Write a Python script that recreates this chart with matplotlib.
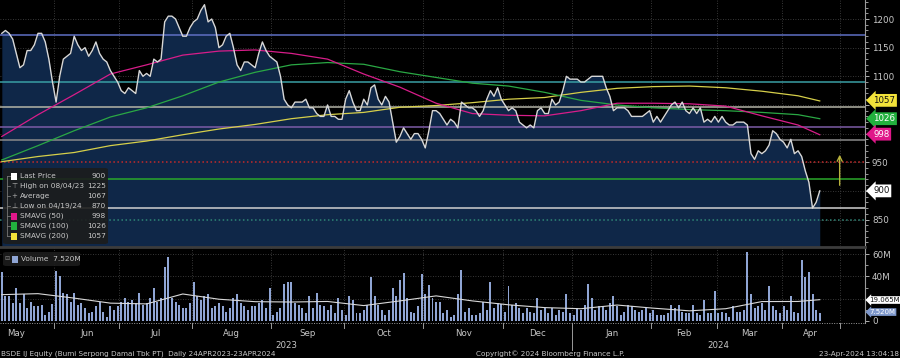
import numpy as np
import pandas as pd
import matplotlib
matplotlib.use("Agg")
import matplotlib.pyplot as plt
from matplotlib.patches import FancyBboxPatch, Rectangle
from matplotlib.lines import Line2D
from matplotlib.transforms import blended_transform_factory

# ---------------- data ----------------
price = [
    1175, 1180, 1175, 1165, 1140, 1115, 1120, 1145, 1145, 1155,
    1175, 1175, 1160, 1130, 1090, 1055, 1100, 1130, 1135, 1140,
    1170, 1155, 1145, 1150, 1135, 1145, 1160, 1140, 1130, 1125,
    1110, 1100, 1090, 1075, 1070, 1080, 1075, 1070, 1110, 1100,
    1105, 1100, 1130, 1125, 1130, 1195, 1205, 1205, 1200, 1185,
    1170, 1170, 1185, 1195, 1200, 1215, 1225, 1195, 1200, 1185,
    1150, 1155, 1170, 1175, 1150, 1120, 1110, 1125, 1125, 1120,
    1115, 1140, 1160, 1145, 1135, 1130, 1125, 1100, 1060, 1050,
    1045, 1055, 1055, 1055, 1060, 1045, 1045, 1035, 1030, 1030,
    1050, 1030, 1030, 1025, 1025, 1060, 1075, 1055, 1040, 1040,
    1060, 1050, 1080, 1085, 1060, 1050, 1065, 1055, 1020, 985,
    995, 1010, 1000, 990, 1000, 1000, 990, 975, 1005, 1040,
    1040, 1035, 1025, 1015, 1025, 1020, 1010, 1055, 1050, 1045,
    1045, 1040, 1030, 1040, 1060, 1075, 1065, 1080, 1060, 1050,
    1040, 1045, 1040, 1020, 1015, 1010, 1015, 1010, 1040, 1045,
    1035, 1035, 1060, 1050, 1055, 1075, 1100, 1095, 1095, 1095,
    1090, 1090, 1095, 1100, 1100, 1100, 1100, 1080, 1065, 1040,
    1045, 1045, 1045, 1040, 1030, 1030, 1030, 1030, 1035, 1040,
    1020, 1030, 1020, 1030, 1040, 1050, 1055, 1045, 1055, 1040,
    1035, 1045, 1035, 1045, 1020, 1025, 1020, 1030, 1020, 1030,
    1020, 1015, 1015, 1020, 1020, 1020, 1015, 965, 955, 970,
    965, 970, 980, 1005, 1000, 990, 985, 975, 990, 965,
    970, 960, 935, 915, 870, 880, 900,
]

volume_m = [
    44, 22, 22, 16, 30, 16, 24, 12, 17, 13,
    13, 14, 5, 8, 15, 45, 40, 25, 24, 17,
    25, 14, 16, 12, 7, 8, 13, 17, 8, 4,
    13, 10, 13, 17, 21, 17, 19, 16, 25, 14,
    16, 21, 30, 17, 21, 48, 57, 21, 17, 14,
    12, 12, 16, 35, 22, 19, 22, 24, 12, 13,
    16, 13, 8, 12, 21, 24, 16, 13, 10, 13,
    13, 16, 19, 12, 30, 5, 8, 12, 33, 35,
    35, 16, 14,
    12, 7, 22, 12, 25, 14, 13, 10, 14, 7,
    21, 10, 5, 22, 19, 7, 7, 10, 14, 39,
    22, 14, 10, 5, 10, 30, 22, 37, 43, 21,
    8, 7, 13, 42, 24, 32, 21, 17, 17, 7,
    10, 4, 5, 24, 46, 8, 12, 5, 5, 7,
    17, 10, 35, 12, 16, 15, 8, 31, 14, 16,
    12, 7, 12, 8, 7, 21, 10, 12, 7, 12,
    5, 10, 8, 24, 7, 5, 12,
    10, 14, 33, 21, 10, 13, 13, 10, 16, 22,
    13, 5, 8, 14, 13, 10, 8, 10, 12, 7,
    10, 5, 5, 5, 7, 14, 12, 14, 8, 7,
    7, 14, 7, 5, 19, 7, 7, 27, 7, 8,
    7, 4, 13, 8, 8, 10, 62, 24, 12, 13,
    16, 10, 31, 13, 10, 7, 13, 10, 22, 8,
    7, 55, 39, 44, 24, 10, 7.52,
]

# moving averages sampled every 10 trading days (index of sample)
ma_day = [0, 10, 20, 30, 40, 50, 60, 70, 80, 90, 100, 110, 120, 130, 140,
          150, 160, 170, 180, 190, 200, 210, 220, 226]
smavg50 = [995, 1033, 1068, 1104, 1120, 1137, 1144, 1146, 1140, 1130, 1104, 1081,
           1053, 1035, 1032, 1031, 1040, 1053, 1053, 1052, 1048, 1031, 1015, 998]
smavg100 = [954, 979, 1005, 1029, 1045, 1066, 1090, 1107, 1120, 1124, 1121, 1108,
            1098, 1088, 1083, 1072, 1058, 1050, 1045, 1042, 1040, 1037, 1033, 1026]
smavg200 = [951, 960, 967, 979, 987, 998, 1008, 1016, 1026, 1033, 1037, 1046,
            1049, 1054, 1060, 1063, 1072, 1079, 1082, 1083, 1080, 1074, 1066, 1057]
vol_ma = [23.6, 24.5, 20.5, 16, 15.3, 24.2, 19.5, 17.3, 17, 17.5, 13.8, 18,
          22.5, 18, 14.5, 12, 11, 14.3, 11.5, 9.1, 11, 17.4, 17.5, 19.1]

level_values = [1172, 1090, 1046, 1012, 989, 951, 920, 871, 849]
level_colors = ['#5f70c4', '#3a9ea4', '#b4b4a6', '#7c5ca6', '#8a8a8a',
                '#c42a2a', '#2aa82a', '#d0d0d0', '#2f8576']
level_styles = ['-', '-', '-', '-', '-', ':', '-', '-', ':']

legend_rows = [("Last Price", "900"), ("High on 08/04/23", "1225"), ("Average", "1067"),
               ("Low on 04/19/24", "870"), ("SMAVG (50)", "998"),
               ("SMAVG (100)", "1026"), ("SMAVG (200)", "1057")]

holidays = ['2023-05-01', '2023-05-18', '2023-06-01', '2023-06-02', '2023-06-29',
            '2023-06-30', '2023-07-19', '2023-08-17', '2023-09-28', '2023-12-25',
            '2023-12-26', '2024-01-01', '2024-02-08', '2024-02-09', '2024-02-14',
            '2024-03-11', '2024-03-12', '2024-03-29', '2024-04-08', '2024-04-09',
            '2024-04-10', '2024-04-11', '2024-04-12', '2024-04-15', '2024-05-01',
            '2024-05-09', '2024-05-10']
month_names = ['Jan', 'Feb', 'Mar', 'Apr', 'May', 'Jun', 'Jul', 'Aug', 'Sep', 'Oct', 'Nov', 'Dec']

# ---------------- calendar (trading-day axis) ----------------
cal = pd.bdate_range('2023-05-01', '2024-05-31')
cal = cal[~cal.isin(pd.to_datetime(holidays))]
start = int(np.searchsorted(cal, pd.Timestamp('2023-05-10')))
pos = np.arange(len(cal)) - start          # trading-day index, 0 = first plotted day
x = np.arange(len(price))

W, H = 900, 358
TXT = '#c8c8c8'
plt.rcParams['font.family'] = ['DejaVu Sans']

fig = plt.figure(figsize=(9, 3.58), dpi=100, facecolor='black')


def rect(x0, y0, x1, y1):
    return [x0 / W, 1 - y1 / H, (x1 - x0) / W, (y1 - y0) / H]


def fx(px):
    return px / W


def fy(py):
    return 1 - py / H


axp = fig.add_axes(rect(0, 0, 865, 246))
axv = fig.add_axes(rect(0, 247, 865, 323), sharex=axp)
XL = (-0.5, 238.5)

for ax in (axp, axv):
    ax.set_facecolor('black')
    for s in ('top', 'left', 'bottom'):
        ax.spines[s].set_visible(False)
    ax.spines['right'].set_color('#9a9a9a')
    ax.spines['right'].set_linewidth(0.8)
    ax.yaxis.tick_right()
    ax.tick_params(axis='y', which='major', colors='#b0b0b0', labelcolor=TXT,
                   labelsize=6.3, length=3, width=0.7, pad=2)
    ax.tick_params(axis='y', which='minor', colors='#b0b0b0', length=2, width=0.6)
    ax.tick_params(axis='x', which='both', bottom=False, labelbottom=False)

# month boundaries and centres
cal_months = pd.Series(pos, index=cal)
boundaries, centres = [], []
for (yy, mm), grp in cal_months.groupby([cal.year, cal.month]):
    b = grp.iloc[0] - 0.5
    e = grp.iloc[-1] + 0.5
    boundaries.append((yy, mm, b))
    centres.append((yy, mm, (b + e) / 2))

# ---------------- price panel ----------------
axp.set_xlim(*XL)
axp.set_ylim(803.8, 1233.2)
ptick = np.arange(850, 1201, 50)
axp.set_yticks(ptick)
# labels at 1050, 1000 and 900 sit under the value tags, as in the original
axp.set_yticklabels(['' if v in (900, 1000, 1050) else str(v) for v in ptick])
axp.set_yticks(np.arange(810, 1231, 10), minor=True)
for v in ptick:
    axp.axhline(v, color='#4a4a4a', lw=0.6, ls=(0, (1, 2)), zorder=1)
for yy, mm, b in boundaries:
    if XL[0] < b < XL[1]:
        axp.axvline(b, color='#4a4a4a', lw=0.6, ls=(0, (1, 2)), zorder=1)
        axv.axvline(b, color='#4a4a4a', lw=0.6, ls=(0, (1, 2)), zorder=1)

axp.fill_between(x, price, 700, color='#0f2748', lw=0, zorder=2)
for v, c, s in zip(level_values, level_colors, level_styles):
    axp.axhline(v, color=c, lw=1.1, ls=s, zorder=3)
axp.plot(ma_day, smavg200, color='#d6cf4a', lw=0.9, zorder=4)
axp.plot(ma_day, smavg100, color='#2aa844', lw=0.9, zorder=4)
axp.plot(ma_day, smavg50, color='#d81d8a', lw=0.9, zorder=4)
axp.plot(x, price, color='#d8d8d8', lw=1.0, zorder=5)

may24 = [b for yy, mm, b in boundaries if yy == 2024 and mm == 5][0]
axp.annotate('', xy=(may24, 968), xytext=(may24, 905),
             arrowprops=dict(arrowstyle='->', color='#b8b23c', lw=1.0,
                             mutation_scale=9), zorder=6)

# right-hand value tags
tp = blended_transform_factory(fig.transFigure, axp.transData)
for val, txt, fc, tc in [(1058, '1057', '#f2e23a', '#111111'), (1026, '1026', '#22b03e', 'white'),
                         (999, '998', '#e0178a', 'white'), (900, '900', 'white', '#111111')]:
    axp.text(fx(873), val, txt, transform=tp, ha='left', va='center', fontsize=6.2,
             color=tc, clip_on=False, zorder=10,
             bbox=dict(boxstyle='larrow,pad=0.22', fc=fc, ec='none'))

# ---------------- volume panel ----------------
axv.set_ylim(-1.8, 66.3)
axv.bar(x, volume_m, width=0.55, color='#8fa5d4', zorder=3)
axv.plot(ma_day, vol_ma, color='#d8d8d8', lw=0.8, zorder=4)
axv.set_yticks([0, 20, 40, 60])
axv.set_yticklabels(['0', '', '40M', '60M'])
axv.set_yticks(np.arange(10, 61, 10), minor=True)
for v in (20, 40, 60):
    axv.axhline(v, color='#4a4a4a', lw=0.6, ls=(0, (1, 2)), zorder=1)
tv = blended_transform_factory(fig.transFigure, axv.transData)
axv.text(fx(869.5), 18.8, '19.065M', transform=tv, ha='left', va='center', fontsize=5.0,
         color='#111111', clip_on=False, zorder=10,
         bbox=dict(boxstyle='larrow,pad=0.12', fc='white', ec='none'))
axv.text(fx(869.5), 8.0, '7.520M', transform=tv, ha='left', va='center', fontsize=5.0,
         color='white', clip_on=False, zorder=10,
         bbox=dict(boxstyle='larrow,pad=0.12', fc='#7e98cc', ec='none'))

# separators / frame lines
fig.add_artist(Line2D([0, fx(865)], [fy(246.5), fy(246.5)], color='#3c3c3c', lw=2))
fig.add_artist(Line2D([0, fx(865)], [fy(323), fy(323)], color='#9a9a9a', lw=0.7,
                      ls=(0, (1, 1.5))))

# x axis: month ticks, month names, years
tx = blended_transform_factory(axv.transData, fig.transFigure)
for yy, mm, b in boundaries:
    if XL[0] < b < XL[1]:
        y_end = 350 if mm == 1 else 328
        fig.add_artist(Line2D([b, b], [fy(323), fy(y_end)], color='#9a9a9a', lw=0.7,
                              transform=tx))
for yy, mm, c in centres:
    if XL[0] <= c <= XL[1]:
        fig.text(c, fy(333), month_names[mm - 1], transform=tx, ha='center', va='center',
                 fontsize=6.2, color=TXT)
jan24 = [b for yy, mm, b in boundaries if yy == 2024 and mm == 1][0]
fig.text((XL[0] + jan24) / 2, fy(345), '2023', transform=tx, ha='center', va='center',
         fontsize=6.2, color=TXT)
fig.text((jan24 + XL[1]) / 2, fy(345), '2024', transform=tx, ha='center', va='center',
         fontsize=6.2, color=TXT)

# footer
fig.text(fx(1), fy(354), 'BSDE IJ Equity (Bumi Serpong Damai Tbk PT)  Daily 24APR2023-23APR2024',
         ha='left', va='center', fontsize=5.25, color=TXT)
fig.text(fx(476), fy(354), 'Copyright\u00a9 2024 Bloomberg Finance L.P.',
         ha='left', va='center', fontsize=5.25, color=TXT)
fig.text(fx(899), fy(354), '23-Apr-2024 13:04:18', ha='right', va='center',
         fontsize=5.25, color=TXT)

# ---------------- legends ----------------
fig.add_artist(FancyBboxPatch((fx(3), fy(244)), fx(108) - fx(3), fy(168) - fy(244),
                              boxstyle='round,pad=0,rounding_size=0.004',
                              fc='#1c1c1c', ec='none', alpha=0.9, zorder=8))
fig.add_artist(Line2D([fx(7), fx(7)], [fy(176), fy(236)], color='#777777', lw=0.6, zorder=9))
row_y = [176, 186, 196, 206, 216, 226, 236]
sym_colors = ['white', None, None, None, '#e0178a', '#22b03e', '#f2e23a']
sym_chars = [None, '\u22a4', '+', '\u22a5', None, None, None]
for (lab, val), ry, sc, ch in zip(legend_rows, row_y, sym_colors, sym_chars):
    fig.add_artist(Line2D([fx(7), fx(10)], [fy(ry), fy(ry)], color='#777777', lw=0.6, zorder=9))
    if sc is not None:
        fig.add_artist(Rectangle((fx(11), fy(ry + 3.5)), fx(6), fy(ry - 3.5) - fy(ry + 3.5),
                                 fc=sc, ec='none', zorder=9))
    else:
        fig.text(fx(14), fy(ry), ch, ha='center', va='center', fontsize=5, color='#aaaaaa',
                 zorder=9)
    fig.text(fx(20), fy(ry), lab, ha='left', va='center', fontsize=5.3, color=TXT, zorder=9)
    fig.text(fx(106), fy(ry), val, ha='right', va='center', fontsize=5.3, color=TXT, zorder=9)

fig.add_artist(FancyBboxPatch((fx(3), fy(266)), fx(80) - fx(3), fy(252) - fy(266),
                              boxstyle='round,pad=0,rounding_size=0.004',
                              fc='#1c1c1c', ec='none', alpha=0.9, zorder=8))
fig.add_artist(Rectangle((fx(12), fy(262.5)), fx(6), fy(255.5) - fy(262.5),
                         fc='#8fa5d4', ec='none', zorder=9))
fig.text(fx(7), fy(259), '\u229f', ha='center', va='center', fontsize=4.5, color='#888888', zorder=9)
fig.text(fx(21), fy(259), 'Volume  7.520M', ha='left', va='center', fontsize=5.3,
         color=TXT, zorder=9)

fig.savefig('out.png', dpi=100, facecolor='black')
